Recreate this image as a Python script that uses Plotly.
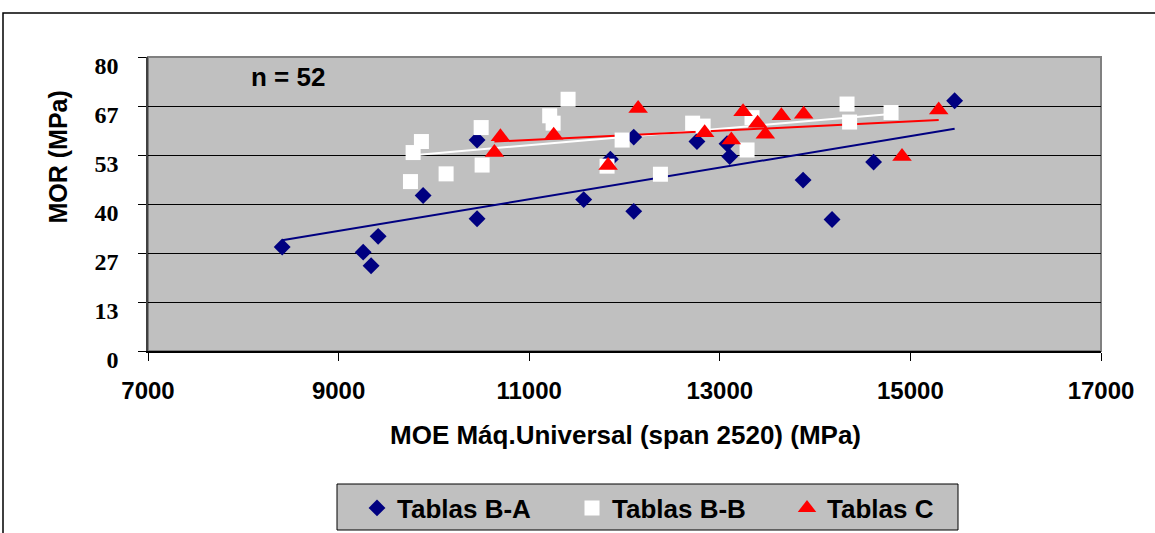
import numpy as np
import plotly.graph_objects as go

# ---- data ----
series_names = ["Tablas B-A", "Tablas B-B", "Tablas C"]

ba_x = [8408, 9258, 9341, 9415, 9887, 10453, 10453, 11572, 11852, 12097, 12097,
        12760, 13076, 13104, 13874, 14178, 14614, 15464]
ba_y = [28.3, 26.9, 23.2, 31.2, 42.3, 57.4, 36.0, 41.2, 52.2, 58.2, 38.0,
        57.0, 56.4, 52.9, 46.5, 35.8, 51.4, 68.1]

bb_x = [9754, 9782, 9869, 10128, 10496, 10506, 11215, 11251, 11408, 11817, 11975,
        12377, 12715, 12825, 13286, 13338, 14335, 14362, 14797]
bb_y = [46.1, 54.0, 57.0, 48.2, 60.8, 50.6, 64.0, 62.0, 68.5, 50.3, 57.4,
        48.1, 62.0, 61.2, 54.7, 63.5, 67.2, 62.3, 64.9]

c_x = [10635, 10698, 11257, 11828, 12143, 12841, 13121, 13244, 13397, 13478,
       13646, 13880, 14912, 15297]
c_y = [54.0, 58.3, 58.7, 50.5, 66.0, 59.4, 57.4, 65.1, 62.0, 59.0,
       64.0, 64.4, 52.9, 65.6]

x_tickvals = [7000, 9000, 11000, 13000, 15000, 17000]
x_ticktext = ["7000", "9000", "11000", "13000", "15000", "17000"]
y_tickvals = [0, 13.333, 26.667, 40, 53.333, 66.667, 80]
y_ticktext = ["0", "13", "27", "40", "53", "67", "80"]
n_label = "n = 52"

SANS = "Liberation Sans, Arial, sans-serif"
SERIF = "Liberation Serif, Times New Roman, serif"

colors = ["#000080", "#FFFFFF", "#FF0000"]
symbols = ["diamond", "square", "triangle-up"]
sizes = [13, 15, 17]
data = [(ba_x, ba_y), (bb_x, bb_y), (c_x, c_y)]

fig = go.Figure()

# linear trend lines (Excel style: from min x to max x of each series)
for (xs, ys), col in zip(data, colors):
    xa = np.array(xs, dtype=float)
    ya = np.array(ys, dtype=float)
    k, b = np.polyfit(xa, ya, 1)
    tx = [xa.min(), xa.max()]
    ty = [k * tx[0] + b, k * tx[1] + b]
    fig.add_trace(go.Scatter(x=tx, y=ty, mode="lines", showlegend=False,
                             line=dict(color=col, width=2), hoverinfo="skip"))

for (xs, ys), name, col, sym, sz in zip(data, series_names, colors, symbols, sizes):
    fig.add_trace(go.Scatter(x=xs, y=ys, mode="markers", name=name,
                             marker=dict(symbol=sym, size=sz, color=col,
                                         line=dict(width=0))))

W, H = 1155, 533
L, R, T, B = 148, 54, 57, 182
pw, ph = W - L - R, H - T - B


def px_x(v):
    return (v - L) / pw


def px_y(v):
    return (H - B - v) / ph


fig.update_layout(
    width=W, height=H,
    margin=dict(l=L, r=R, t=T, b=B, pad=0, autoexpand=False),
    paper_bgcolor="white",
    plot_bgcolor="#C0C0C0",
    showlegend=True,
    legend=dict(orientation="h", x=px_x(357), xanchor="left",
                y=px_y(508), yanchor="middle",
                bgcolor="rgba(0,0,0,0)", borderwidth=0,
                font=dict(family=SANS, size=26, color="black", weight="bold"),
                entrywidth=170, entrywidthmode="pixels"),
    xaxis=dict(range=[7000, 17000], tickvals=x_tickvals, ticktext=x_ticktext,
               showgrid=False,
               zeroline=False, showline=True, linecolor="black", linewidth=1.5,
               ticks="outside", ticklen=8, tickcolor="black", tickwidth=1,
               tickfont=dict(family=SANS, size=24, color="black", weight="bold"),
               ticklabelstandoff=9),
    yaxis=dict(range=[0, 80], tickvals=y_tickvals, ticktext=y_ticktext,
               showgrid=True, gridcolor="black", gridwidth=1,
               zeroline=False, showline=True, linecolor="#404040", linewidth=1.5,
               ticks="outside", ticklen=8, tickcolor="black", tickwidth=1,
               tickfont=dict(family=SERIF, size=24, color="black", weight="bold"),
               ticklabelstandoff=15, ticklabelshift=9),
    shapes=[
        dict(type="rect", xref="paper", yref="paper", x0=0, x1=1, y0=0, y1=1,
             line=dict(color="#808080", width=2), layer="between"),
        dict(type="rect", xref="paper", yref="paper",
             x0=px_x(3), x1=px_x(1162), y0=px_y(545), y1=px_y(13),
             line=dict(color="black", width=1.5)),
        dict(type="rect", xref="paper", yref="paper",
             x0=px_x(337), x1=px_x(958), y0=px_y(530), y1=px_y(484),
             fillcolor="#C0C0C0", line=dict(color="black", width=1), layer="below"),
    ],
    annotations=[
        dict(text="MOE Máq.Universal (span 2520) (MPa)", xref="paper", yref="paper",
             x=px_x(625.5), y=px_y(435), xanchor="center", yanchor="middle",
             showarrow=False,
             font=dict(family=SANS, size=26, color="black", weight="bold")),
        dict(text="MOR (MPa)", xref="paper", yref="paper",
             x=px_x(57), y=px_y(157.5), xanchor="center", yanchor="middle",
             textangle=-90, showarrow=False,
             font=dict(family=SANS, size=25, color="black", weight="bold")),
        dict(text=n_label, xref="paper", yref="paper",
             x=px_x(288), y=px_y(77), xanchor="center", yanchor="middle",
             showarrow=False,
             font=dict(family=SANS, size=26, color="black", weight="bold")),
    ],
)

fig.write_html("out.html")
